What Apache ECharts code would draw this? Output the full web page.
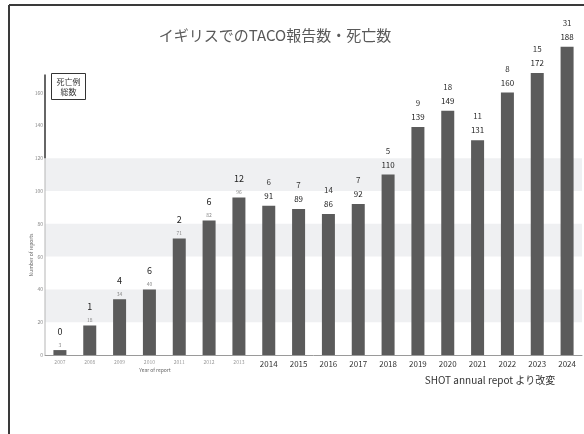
<!DOCTYPE html>
<html>
<head>
<meta charset="utf-8">
<script src="https://cdn.jsdelivr.net/npm/echarts@6/dist/echarts.min.js"></script>
<style>
html,body{margin:0;padding:0;background:#fff}
#c{width:584px;height:434px}
</style>
</head>
<body>
<div id="c"></div>
<script>
// Reports per year and deaths among them
const years = ['2007','2008','2009','2010','2011','2012','2013','2014','2015','2016','2017','2018','2019','2020','2021','2022','2023','2024'];
const reports = [3, 18, 34, 40, 71, 82, 96, 91, 89, 86, 92, 110, 139, 149, 131, 160, 172, 188];
const deaths = [0, 1, 4, 6, 2, 6, 12, 6, 7, 14, 7, 5, 9, 18, 11, 8, 15, 31];
// Shaded horizontal bands (value ranges)
const bands = [[20, 40], [60, 80], [100, 120]];
// Years drawn in the older, small-label style
const earlyCount = 7;

const FONT = '"Noto Sans CJK JP","Noto Sans",sans-serif';
const chart = echarts.init(document.getElementById('c'), null, {renderer: 'canvas'});

const GRID = {left: 45, right: 2, top: 27, bottom: 79};

const barData = reports.map((v, i) => ({
  value: v,
  label: {distance: i < earlyCount ? 1 : 3}
}));

const xData = years.map((y, i) => ({
  value: y,
  textStyle: i < earlyCount
    ? {fontSize: 5, color: '#999', fontFamily: FONT}
    : {fontSize: 8, color: '#333', fontFamily: FONT}
}));

chart.setOption({
  animation: false,
  backgroundColor: '#fff',
  grid: GRID,
  xAxis: {
    type: 'category',
    data: xData,
    axisLine: {lineStyle: {color: '#9a9a9a', width: 1}},
    axisTick: {show: false},
    axisLabel: {margin: 5, interval: 0}
  },
  yAxis: {
    type: 'value',
    min: 0,
    max: 200,
    interval: 20,
    axisLine: {show: false},
    axisTick: {show: false},
    splitLine: {show: false},
    axisLabel: {
      margin: 2,
      fontSize: 5,
      color: '#888',
      fontFamily: FONT,
      formatter: v => (v <= 160 ? String(v) : '')
    }
  },
  series: [{
    type: 'bar',
    data: barData,
    barWidth: 13,
    itemStyle: {color: '#5b5b5b'},
    label: {
      show: true,
      position: 'top',
      align: 'center',
      fontFamily: FONT,
      formatter: p => p.dataIndex < earlyCount
        ? `{d|${deaths[p.dataIndex]}}\n{v|${p.value}}`
        : `{D|${deaths[p.dataIndex]}}\n{V|${p.value}}`,
      rich: {
        d: {fontSize: 9, color: '#222', lineHeight: 20, fontFamily: FONT},
        v: {fontSize: 5, color: '#888', lineHeight: 8, fontFamily: FONT},
        D: {fontSize: 8, color: '#333', lineHeight: 14, fontFamily: FONT},
        V: {fontSize: 8, color: '#222', lineHeight: 14, fontFamily: FONT}
      }
    },
    markArea: {
      silent: true,
      itemStyle: {color: '#eff0f2'},
      data: bands.map(([a, b]) => [{yAxis: a}, {yAxis: b}])
    },
    z: 3
  }]
});

// Decorations placed relative to the value axis
const axisX = GRID.left;
const y0 = chart.convertToPixel({yAxisIndex: 0}, 0);
const y120 = chart.convertToPixel({yAxisIndex: 0}, 120);
const yTop = chart.convertToPixel({yAxisIndex: 0}, 171);

chart.setOption({
  graphic: [
    // slide frame
    {type: 'line', shape: {x1: 9, y1: 5, x2: 600, y2: 5}, style: {stroke: '#3a3a3a', lineWidth: 2}, z: 10},
    {type: 'line', shape: {x1: 9, y1: 5, x2: 9, y2: 440}, style: {stroke: '#3a3a3a', lineWidth: 2}, z: 10},
    // value axis line
    {type: 'line', shape: {x1: axisX, y1: y0, x2: axisX, y2: y120}, style: {stroke: '#b5b5b5', lineWidth: 1}, z: 10},
    {type: 'line', shape: {x1: axisX, y1: y120, x2: axisX, y2: yTop}, style: {stroke: '#666', lineWidth: 2}, z: 10},
    // title
    {type: 'text', x: 275, y: 35, style: {text: 'イギリスでのTACO報告数・死亡数', fill: '#595959', font: '15px ' + FONT, textAlign: 'center', textVerticalAlign: 'middle'}, z: 10},
    // key box
    {type: 'rect', shape: {x: 51.5, y: 73.5, width: 34, height: 26}, style: {fill: '#fff', stroke: '#333', lineWidth: 1}, z: 10},
    {type: 'text', x: 68.5, y: 86.5, style: {text: '死亡例\n総数', fill: '#333', font: '8px ' + FONT, textAlign: 'center', textVerticalAlign: 'middle', lineHeight: 10}, z: 11},
    // axis names
    {type: 'text', x: 155, y: 370, style: {text: 'Year of report', fill: '#666', font: '5px ' + FONT, textAlign: 'center', textVerticalAlign: 'middle'}, z: 10},
    {type: 'text', x: 31, y: 255, rotation: Math.PI / 2, style: {text: 'Number of reports', fill: '#666', font: '5px ' + FONT, textAlign: 'center', textVerticalAlign: 'middle'}, z: 10},
    // source note
    {type: 'text', x: 490, y: 380, style: {text: 'SHOT annual repot より改変', fill: '#333', font: '10px ' + FONT, textAlign: 'center', textVerticalAlign: 'middle'}, z: 10}
  ]
});
</script>
</body>
</html>
